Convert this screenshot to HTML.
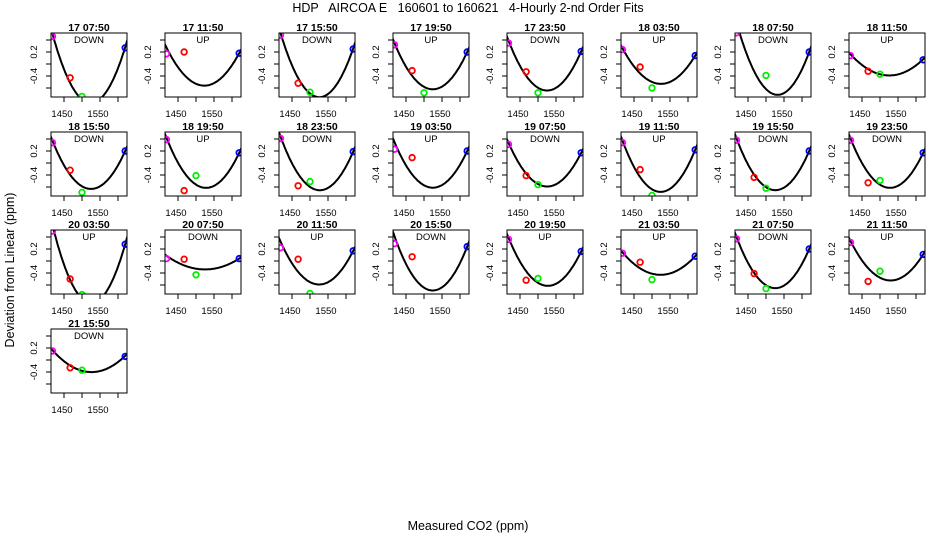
<!DOCTYPE html>
<html><head><meta charset="utf-8">
<style>
html,body{margin:0;padding:0;background:#fff;}
svg{display:block;font-family:"Liberation Sans",sans-serif;}
</style></head>
<body>
<svg id="chart" width="936" height="540" viewBox="0 0 936 540" xmlns="http://www.w3.org/2000/svg">
<text xml:space="preserve" style="white-space:pre" x="468" y="12" text-anchor="middle" font-size="12.5">HDP   AIRCOA E   160601 to 160621   4-Hourly 2-nd Order Fits</text>
<text transform="translate(14,270) rotate(-90)" text-anchor="middle" font-size="12.5">Deviation from Linear (ppm)</text>
<text x="468" y="530" text-anchor="middle" font-size="12.5">Measured CO2 (ppm)</text>
<g id="panels"></g>
</svg>
<script>
const panelTitles=["17 07:50","17 11:50","17 15:50","17 19:50","17 23:50","18 03:50","18 07:50","18 11:50",
"18 15:50","18 19:50","18 23:50","19 03:50","19 07:50","19 11:50","19 15:50","19 23:50",
"20 03:50","20 07:50","20 11:50","20 15:50","20 19:50","21 03:50","21 07:50","21 11:50","21 15:50"];
const directions=["DOWN","UP","DOWN","UP","DOWN","UP","DOWN","UP",
"DOWN","UP","DOWN","UP","DOWN","UP","DOWN","DOWN",
"UP","DOWN","UP","DOWN","UP","UP","DOWN","UP","DOWN"];
const magentaY=[0.46,0.17,0.48,0.32,0.35,0.24,0.52,0.14,0.34,0.39,0.41,0.23,0.31,0.34,0.38,0.38,0.5,0.04,0.22,0.29,0.36,0.13,0.37,0.31,0.15];
const redY=[-0.23,0.2,-0.32,-0.11,-0.13,-0.05,null,-0.12,-0.12,-0.46,-0.38,0.09,-0.21,-0.11,-0.24,-0.33,-0.3,0.03,0.03,0.07,-0.32,-0.02,-0.21,-0.34,-0.13];
const greenY=[-0.54,null,-0.47,-0.48,-0.48,-0.4,-0.19,-0.17,-0.49,-0.21,-0.31,null,-0.36,-0.54,-0.42,-0.29,-0.56,-0.23,-0.54,null,-0.29,-0.31,-0.46,-0.17,-0.17];
const blueY=[0.27,0.18,0.25,0.2,0.21,0.14,0.2,0.07,0.2,0.17,0.19,0.2,0.17,0.22,0.2,0.17,0.28,0.04,0.17,0.24,0.16,0.08,0.2,0.11,0.06];
const fitAt1420=[0.46,0.25,0.48,0.32,0.36,0.24,0.65,0.15,0.34,0.39,0.41,0.32,0.31,0.34,0.38,0.38,0.55,0.08,0.3,0.38,0.36,0.13,0.37,0.31,0.15];
const fitAt1520=[-0.65,-0.36,-0.55,-0.42,-0.44,-0.33,-0.5,-0.19,-0.43,-0.41,-0.45,-0.41,-0.39,-0.48,-0.45,-0.41,-0.7,-0.14,-0.39,-0.49,-0.41,-0.23,-0.45,-0.32,-0.2];
const fitAt1620=[0.28,0.18,0.26,0.2,0.21,0.14,0.2,0.08,0.2,0.17,0.19,0.2,0.17,0.22,0.2,0.17,0.28,0.04,0.17,0.24,0.16,0.08,0.2,0.11,0.07];
const pointX=[1418,1467,1500,1620];
const xTicks=[1450,1500,1550,1600];
const xTickLabels=["1450","","1550",""];
const yTicks=[0.4,0.2,0,-0.2,-0.4];
const yTickLabels=["","0.2","","-0.4",""];

const NS="http://www.w3.org/2000/svg";
const root=document.getElementById('panels');
function mk(tag,attrs,parent){const e=document.createElementNS(NS,tag);for(const k in attrs)e.setAttribute(k,attrs[k]);(parent||root).appendChild(e);return e;}
const W=76,H=64;
function boxLeft(i){return 51+(i%8)*114;}
function boxTop(i){return Math.round(33+Math.floor(i/8)*98.5);}
function xs(i,v){return boxLeft(i)+13+(v-1450)*0.36;}
function ys(i,v){return boxTop(i)+31-v*60;}

const defs=mk('defs',{});
panelTitles.forEach((t,i)=>{
  const L=boxLeft(i),T=boxTop(i);
  const g=mk('g',{});
  
  
  const cp=mk('clipPath',{id:'cp'+i},defs);
  mk('rect',{x:L,y:T,width:W,height:H},cp);
  const tt=mk('text',{x:L+W/2,y:T-2,'text-anchor':'middle','font-size':'10.5','font-weight':'bold'},g);
  tt.textContent=t;
  
  
  const dt=mk('text',{x:L+W/2,y:T+10,'text-anchor':'middle','font-size':'9.5'},g);
  dt.textContent=directions[i];
  
  
  xTicks.forEach((v,k)=>{
    const x=xs(i,v);
    mk('line',{x1:x,y1:T+H,x2:x,y2:T+H+5,stroke:'#000','stroke-width':1},g);
    if(xTickLabels[k]){const tl=mk('text',{x:x-2,y:T+H+20,'text-anchor':'middle','font-size':'9.5'},g);tl.textContent=xTickLabels[k];
      
      }
  });
  yTicks.forEach((v,k)=>{
    const y=ys(i,v);
    mk('line',{x1:L-5,y1:y,x2:L,y2:y,stroke:'#000','stroke-width':1},g);
    if(yTickLabels[k]){const tl=mk('text',{transform:`translate(${L-14},${y}) rotate(-90)`,'text-anchor':'middle','font-size':'9.5'},g);tl.textContent=yTickLabels[k];
      
      }
  });
  const y0=fitAt1420[i],y1=fitAt1520[i],y2=fitAt1620[i];
  const a=(y2-2*y1+y0)/(2*100*100), b=(y2-y0)/(200);
  let d='';
  for(let v=1410;v<=1630;v+=2){const u=v-1520;const y=y1+b*u+a*u*u;d+=(d?'L':'M')+xs(i,v).toFixed(1)+','+ys(i,y).toFixed(1);}
  const cg=mk('g',{'clip-path':'url(#cp'+i+')'},g);
  const path=mk('path',{d:d,fill:'none',stroke:'#000','stroke-width':2},cg);
  
  
  const series=[[magentaY,'#ff00ff'],[redY,'#ff0000'],[greenY,'#00ee00'],[blueY,'#0000ff']];
  series.forEach((s,k)=>{
    const v=s[0][i]; if(v===null) return;
    const cx=xs(i,pointX[k]),cy=ys(i,v);
    const c=mk('circle',{cx:cx,cy:cy,r:2.8,fill:'none',stroke:s[1],'stroke-width':1.8},cg);
    
    
  });
  const box=mk('rect',{x:L,y:T,width:W,height:H,fill:'none',stroke:'#000','stroke-width':1},g);
  
  
});
</script>
</body></html>
